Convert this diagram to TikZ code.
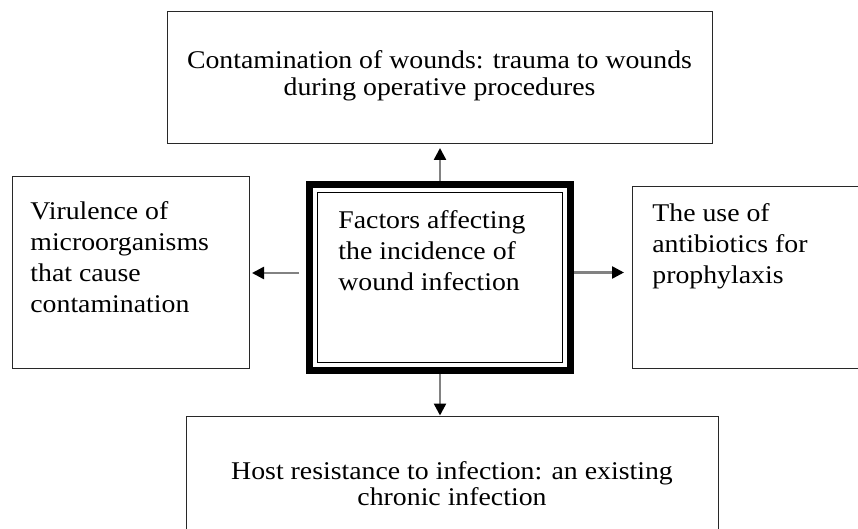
\documentclass[tikz,border=0pt]{standalone}
\usepackage{fontspec}
\setmainfont{Liberation Serif}[FakeStretch=1.09]
\usetikzlibrary{arrows.meta,calc}

\tikzset{every picture/.style={line width=0.75pt}}
\tikzset{
  box/.style={draw={rgb, 255:red, 40; green, 40; blue, 40 }, line width=1pt, anchor=north west, inner sep=0pt, outer sep=0pt},
  txt/.style={inner sep=0pt, align=left, font=\fontsize{25.5}{31}\selectfont},
  arr/.style={draw={rgb, 255:red, 130; green, 130; blue, 130 }, line width=2.5pt, -{Triangle[color=black,length=12pt,width=12pt]}}
}

\begin{document}
\begin{tikzpicture}[x=1pt,y=1pt,yscale=-1,xscale=1]
\useasboundingbox (0,0) rectangle (858,529);
\clip (0,0) rectangle (858,529);

%Shape: Rectangle [contamination]
\node[box, minimum width=545, minimum height=132] (contam) at (167,12) {};
%Shape: Rectangle [virulence]
\node[box, minimum width=237, minimum height=191] (viru) at (12,177) {};
%Shape: Rectangle [antibiotics]
\node[box, minimum width=268, minimum height=181] (antib) at (632,187) {};
%Shape: Rectangle [host]
\node[box, minimum width=532, minimum height=144] (host) at (186,416) {};
%Shape: Rectangle [factors, thick frame]
\node[box, draw=black, line width=7pt, minimum width=261, minimum height=186] (factors) at (309.5,184.5) {};
\draw[line width=1.5pt] ($(factors.north west)+(8,8)$) rectangle ($(factors.south east)+(-8,-8)$);

\coordinate (lout) at ($(factors.west)+(0,-4.5)$);
\coordinate (rout) at ($(factors.east)+(0,-5)$);
%Straight Lines [up]
\draw[arr, shorten <=3.5pt, shorten >=4pt] (factors.north) -- (factors.north |- contam.south);
%Straight Lines [down]
\draw[arr, shorten <=3.5pt, shorten >=0.5pt] (factors.south) -- (factors.south |- host.north);
%Straight Lines [left]
\draw[arr, shorten <=10.5pt, shorten >=3pt] (lout) -- (lout -| viru.east);
%Straight Lines [right]
\draw[arr, shorten <=3.5pt, shorten >=8pt] (rout) -- (rout -| antib.west);

% Text Node
\node[txt, anchor=north, align=center, font=\fontsize{25.5}{27}\selectfont] (contamtxt) at (439.5,50.6) {Contamination of wounds: trauma to wounds\\during operative procedures};
% Text Node
\node[txt, anchor=north west] (virutxt) at (30,201.6) {Virulence of\\microorganisms\\that cause\\contamination};
% Text Node
\node[txt, anchor=north west] (factorstxt) at (338,210.6) {Factors affecting\\the incidence of\\wound infection};
% Text Node
\node[txt, anchor=north west] (antibtxt) at (652,203.6) {The use of\\antibiotics for\\prophylaxis};
% Text Node
\node[txt, anchor=north, align=center, font=\fontsize{25.5}{26}\selectfont] (hosttxt) at (452,461.6) {Host resistance to infection: an existing\\chronic infection};

\end{tikzpicture}
\end{document}
